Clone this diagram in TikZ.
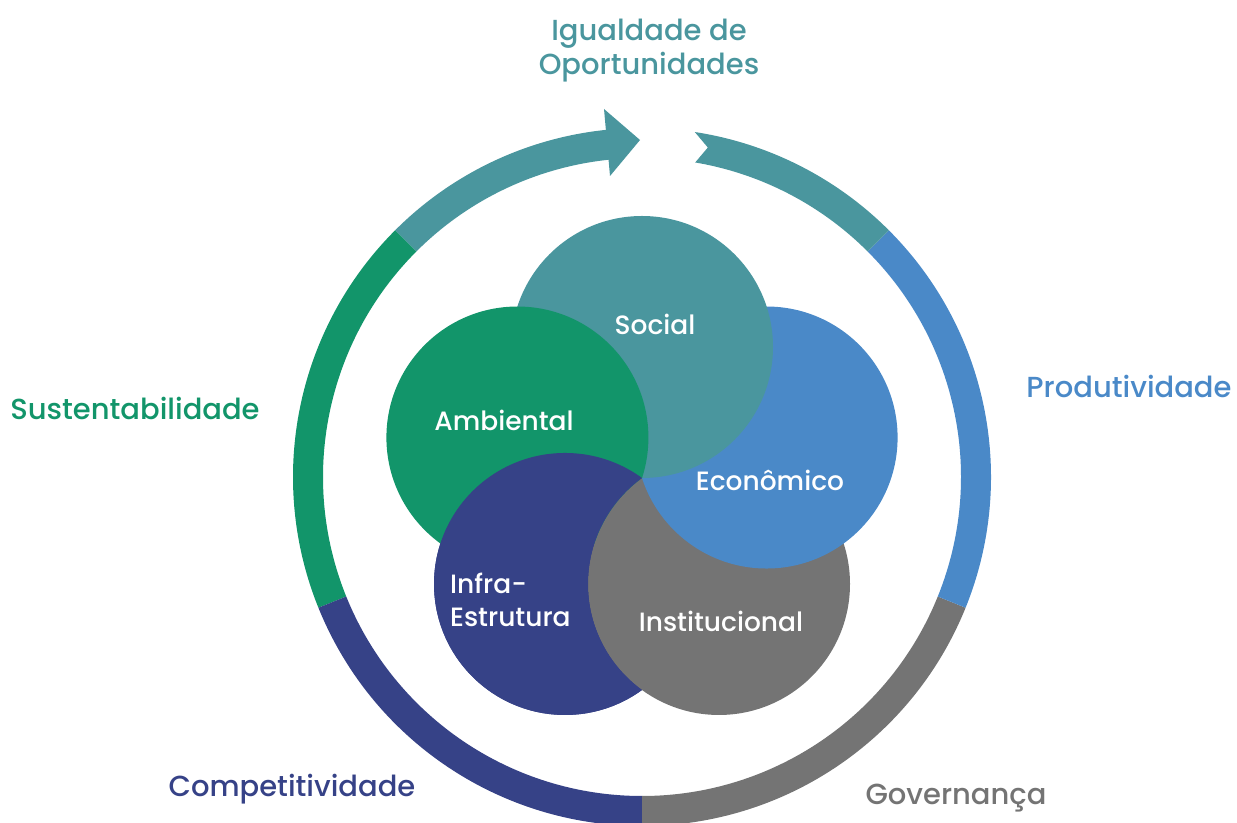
\documentclass[tikz,border=0pt]{standalone}
\usepackage{fontspec}
\setmainfont{Poppins}[UprightFont=* Medium]
\definecolor{cteal}{RGB}{74,150,158}
\definecolor{cgreen}{RGB}{18,149,106}
\definecolor{cblue}{RGB}{74,137,200}
\definecolor{cnavy}{RGB}{54,66,135}
\definecolor{cgray}{RGB}{116,116,116}
\begin{document}
\begin{tikzpicture}[x=1pt,y=1pt,
  lbl/.style={font=\fontsize{29}{33}\selectfont, inner sep=0pt},
  inlbl/.style={font=\fontsize{26.5}{33}\selectfont, text=white, inner sep=0pt}]
\useasboundingbox (0,0) rectangle (1237,822);
\coordinate (C) at (642,344);
\path (C) ++(90:131) coordinate (cS);
\path (C) ++(162:131) coordinate (cA);
\path (C) ++(18:131) coordinate (cE);
\path (C) ++(234:131) coordinate (cF);
\path (C) ++(306:131) coordinate (cI);
\path (cI) ++(131,0) coordinate (cIe);
% circles (cyclic overlap: each covers the next one clockwise)
\fill[cnavy] (cF) circle[radius=131];
\fill[cgray] (cI) circle[radius=131];
\fill[cblue] (cE) circle[radius=131];
\fill[cteal] (cS) circle[radius=131];
\begin{scope}
  % everything except the Institucional circle
  \clip (0,0) -- (0,822) -- (1237,822) -- (1237,0) -- cycle
        (cIe) arc[start angle=0,end angle=360,radius=131] -- cycle;
  \fill[cgreen] (cA) circle[radius=131];
  \fill[cnavy] (cF) circle[radius=131];
\end{scope}
% ring
\begin{scope}[shift={(642,345)}]
  \fill[cgreen] (135:349) arc[start angle=135,end angle=202,radius=349] -- (202:319) arc[start angle=202,end angle=135,radius=319] -- cycle;
  \fill[cnavy] (202:349) arc[start angle=202,end angle=270,radius=349] -- (270:319) arc[start angle=270,end angle=202,radius=319] -- cycle;
  \fill[cgray] (270:349) arc[start angle=270,end angle=338,radius=349] -- (338:319) arc[start angle=338,end angle=270,radius=319] -- cycle;
  \fill[cblue] (-22:349) arc[start angle=-22,end angle=45,radius=349] -- (45:319) arc[start angle=45,end angle=-22,radius=319] -- cycle;
  \fill[cteal] (45:349) arc[start angle=45,end angle=81.3,radius=349] -- (78.7:336) -- (80.4:319) arc[start angle=80.4,end angle=45,radius=319] -- cycle;
  \fill[cteal] (135:349) arc[start angle=135,end angle=95,radius=349] -- (95:319) arc[start angle=95,end angle=135,radius=319] -- cycle;
  \fill[cteal] (-38,368) -- (-2,337) -- (-32,301) -- cycle;
\end{scope}
% outer labels
\node[lbl, text=cteal] (igual1) at (649,788) {Igualdade de};
\node[lbl, text=cteal] (igual2) at (649,755) {Oportunidades};
\node[lbl, text=cgreen] (sust) at (135,414) {Sustentabilidade};
\node[lbl, text=cblue] (prod) at (1129,436) {Produtividade};
\node[lbl, text=cnavy] (comp) at (292,33) {Competitividade};
\node[lbl, text=cgray] (gov) at (956,24) {Governança};
% inner labels
\node[inlbl] (social) at (655,498) {Social};
\node[inlbl] (amb) at (504,402) {Ambiental};
\node[inlbl] (econ) at (770,342) {Econômico};
\node[inlbl, align=left, anchor=west] (infra) at (450,222) {Infra-\\Estrutura};
\node[inlbl] (inst) at (721,201) {Institucional};
\end{tikzpicture}
\end{document}
